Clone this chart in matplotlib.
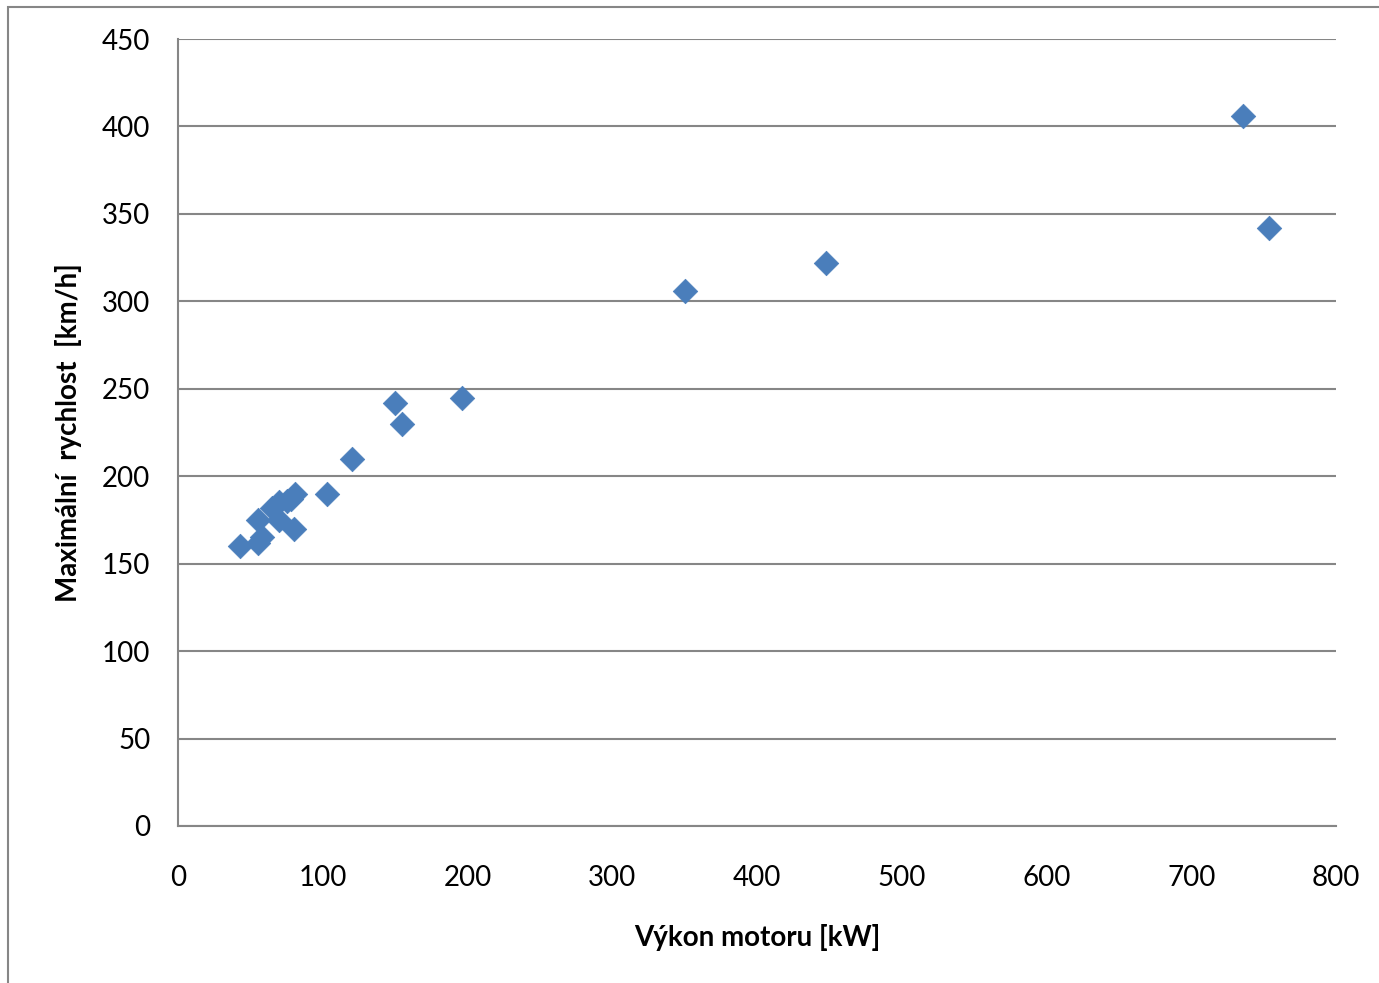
import matplotlib
matplotlib.use('Agg')
import matplotlib.pyplot as plt
from matplotlib.patches import Rectangle

# engine power [kW] vs. top speed [km/h]
power_kw = [43, 55, 58, 55, 65, 70, 70, 75, 78, 81, 80, 103,
            120, 150, 155, 196, 350, 448, 736, 754]
speed_kmh = [160, 162, 165, 175, 182, 185, 175, 186, 187, 190, 170, 190,
             210, 242, 230, 245, 306, 322, 406, 342]

x_ticks = [0, 100, 200, 300, 400, 500, 600, 700, 800]
y_ticks = [0, 50, 100, 150, 200, 250, 300, 350, 400, 450]

plt.rcParams['font.family'] = ['Lato', 'DejaVu Sans']

W, H = 1379, 983
fig = plt.figure(figsize=(W / 100, H / 100), dpi=100)
ax = fig.add_axes([178 / W, (H - 826) / H, (1336 - 178) / W, (826 - 39) / H])

grid_col = '#868686'
ax.scatter(power_kw, speed_kmh, marker='D', s=12.5 ** 2, color='#4A7EBB',
           edgecolors='#4A7EBB', linewidths=0.5, zorder=3)

ax.set_xlim(0, 800)
ax.set_ylim(0, 450)
ax.set_xticks(x_ticks)
ax.set_yticks(y_ticks)
ax.tick_params(length=0, labelsize=20)
ax.tick_params(axis='y', pad=20)
ax.tick_params(axis='x', pad=28)
ax.grid(True, axis='y', color=grid_col, linewidth=1.5, zorder=1)

for s in ['top', 'right']:
    ax.spines[s].set_visible(False)
for s in ['left', 'bottom']:
    ax.spines[s].set_color(grid_col)
    ax.spines[s].set_linewidth(1.5)

ax.set_xlabel('Výkon motoru [kW]', fontsize=20, fontweight='bold', labelpad=24)
ax.set_ylabel('Maximální  rychlost  [km/h]', fontsize=20, fontweight='bold', labelpad=14)

# chart-area border (only left and top edges are visible)
fig.add_artist(Rectangle((8 / W, -0.05), 1.2, (H - 7) / H + 0.05,
                         transform=fig.transFigure, fill=False,
                         edgecolor=grid_col, linewidth=1.5))

fig.savefig('out.png', dpi=100)
